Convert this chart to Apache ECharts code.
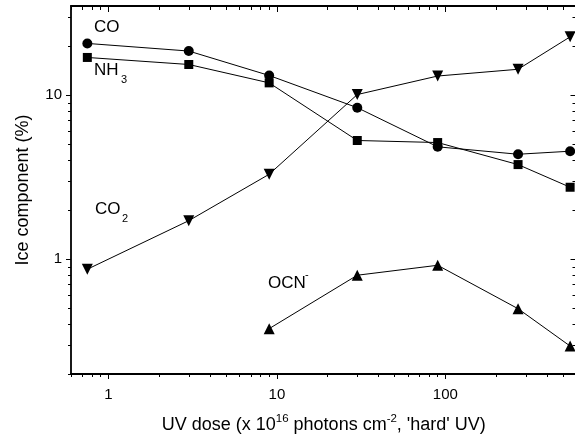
<!DOCTYPE html>
<html>
<head>
<meta charset="utf-8">
<script src="https://cdn.jsdelivr.net/npm/echarts@6/dist/echarts.min.js"></script>
<style>
html,body{margin:0;padding:0;background:#fff;}
#c{width:575px;height:437px;}
</style>
</head>
<body>
<div id="c"></div>
<script>
// UV dose (x 1e16 photons cm^-2)
const doses = [0.75, 3, 9, 30, 90, 270, 550];
const coValues  = [20.7, 18.6, 13.2, 8.4, 4.85, 4.37, 4.56];
const nh3Values = [17.0, 15.4, 11.9, 5.3, 5.15, 3.78, 2.75];
const co2Values = [0.87, 1.72, 3.3, 10.1, 13.1, 14.4, 22.7];
const ocnValues = [null, null, 0.378, 0.80, 0.92, 0.50, 0.296];

const xMajorTicks = [1, 10, 100];
const xMinorTicks = [0.6, 0.7, 0.8, 0.9, 2, 3, 4, 5, 6, 7, 8, 9, 20, 30, 40, 50, 60, 70, 80, 90, 200, 300, 400, 500, 600];
const yMajorTicks = [1, 10];
const yMinorTicks = [0.2, 0.3, 0.4, 0.5, 0.6, 0.7, 0.8, 0.9, 2, 3, 4, 5, 6, 7, 8, 9, 20, 30];

const FONT = 'Liberation Sans, Arial, sans-serif';

function pairs(vals) {
  const out = [];
  for (let i = 0; i < doses.length; i++) {
    if (vals[i] != null) out.push([doses[i], vals[i]]);
  }
  return out;
}

const X_MIN = 0.6, X_MAX = 600, Y_MIN = 0.2, Y_MAX = 35;
const lineAx = { show: true, lineStyle: { color: '#000', width: 1.8 } };
const noLine = { show: false };

function xAx(pos, ticks, len, inside, withLine, withLabels) {
  return {
    type: 'log', logBase: 10, min: X_MIN, max: X_MAX, position: pos,
    axisLine: withLine ? lineAx : noLine,
    axisTick: { show: true, customValues: ticks, length: len, inside: inside, lineStyle: { color: '#000', width: 1 } },
    axisLabel: withLabels ? {
      show: true, customValues: xMajorTicks, margin: 13, color: '#000', fontSize: 15, fontFamily: FONT,
      formatter: v => String(Math.round(v))
    } : { show: false },
    splitLine: { show: false }, minorTick: { show: false }, minorSplitLine: { show: false }
  };
}
function yAx(pos, ticks, len, inside, withLine, withLabels) {
  return {
    type: 'log', logBase: 10, min: Y_MIN, max: Y_MAX, position: pos,
    axisLine: withLine ? lineAx : noLine,
    axisTick: { show: true, customValues: ticks, length: len, inside: inside, lineStyle: { color: '#000', width: 1 } },
    axisLabel: withLabels ? {
      show: true, customValues: yMajorTicks, margin: 9, color: '#000', fontSize: 15, fontFamily: FONT,
      formatter: v => String(Math.round(v))
    } : { show: false },
    splitLine: { show: false }, minorTick: { show: false }, minorSplitLine: { show: false }
  };
}

const xAxes = [
  xAx('bottom', xMajorTicks, 5, false, true, true),
  xAx('bottom', xMinorTicks, 3, false, false, false),
  xAx('top', xMajorTicks, 6, true, true, false),
  xAx('top', xMinorTicks, 4, true, false, false)
];
xAxes[0].name = '{a|UV dose (x 10}{s|16}{a| photons cm}{s|-2}{a|, \'hard\' UV)}';
xAxes[0].nameLocation = 'middle';
xAxes[0].nameGap = 39;
xAxes[0].nameTextStyle = {
  color: '#000', fontFamily: FONT, fontSize: 18,
  rich: {
    a: { fontSize: 18, fontFamily: FONT, color: '#000', lineHeight: 25 },
    s: { fontSize: 11.5, fontFamily: FONT, color: '#000', lineHeight: 25, verticalAlign: 'top' }
  }
};

const yAxes = [
  yAx('left', yMajorTicks, 5, false, true, true),
  yAx('left', yMinorTicks, 3, false, false, false),
  yAx('right', yMajorTicks, 6, true, true, false),
  yAx('right', yMinorTicks, 4, true, false, false)
];
yAxes[0].name = 'Ice component (%)';
yAxes[0].nameLocation = 'middle';
yAxes[0].nameGap = 39;
yAxes[0].nameTextStyle = { color: '#000', fontFamily: FONT, fontSize: 18 };

function mkSeries(name, vals, symbol, size, rotate) {
  return {
    name: name, type: 'line', xAxisIndex: 0, yAxisIndex: 0,
    data: pairs(vals),
    symbol: symbol, symbolSize: size, symbolRotate: rotate || 0,
    showAllSymbol: true,
    lineStyle: { color: '#000', width: 1 },
    itemStyle: { color: '#000', borderWidth: 0 },
    emphasis: { disabled: true },
    z: 3
  };
}

function label(text, x, y, size) {
  return {
    type: 'text', x: x, y: y, z: 10,
    style: { text: text, fill: '#000', fontSize: size, fontFamily: FONT, verticalAlign: 'middle', align: 'left' }
  };
}

const chart = echarts.init(document.getElementById('c'), null, { renderer: 'canvas' });
chart.setOption({
  animation: false,
  backgroundColor: '#fff',
  grid: { left: 71, top: 6, width: 505.5, height: 368, containLabel: false, outerBoundsMode: 'none' },
  xAxis: xAxes,
  yAxis: yAxes,
  series: [
    mkSeries('CO', coValues, 'circle', 10),
    mkSeries('NH3', nh3Values, 'rect', 9),
    mkSeries('CO2', co2Values, 'triangle', 11, 180),
    mkSeries('OCN-', ocnValues, 'triangle', 11)
  ],
  graphic: [
    label('CO', 94, 27, 17),
    label('NH', 94, 70, 17),
    label('3', 121, 80, 11),
    label('CO', 95, 209.5, 17),
    label('2', 122, 218.5, 11),
    label('OCN', 268, 283, 17),
    label('-', 305, 275, 11)
  ]
});
</script>
</body>
</html>
